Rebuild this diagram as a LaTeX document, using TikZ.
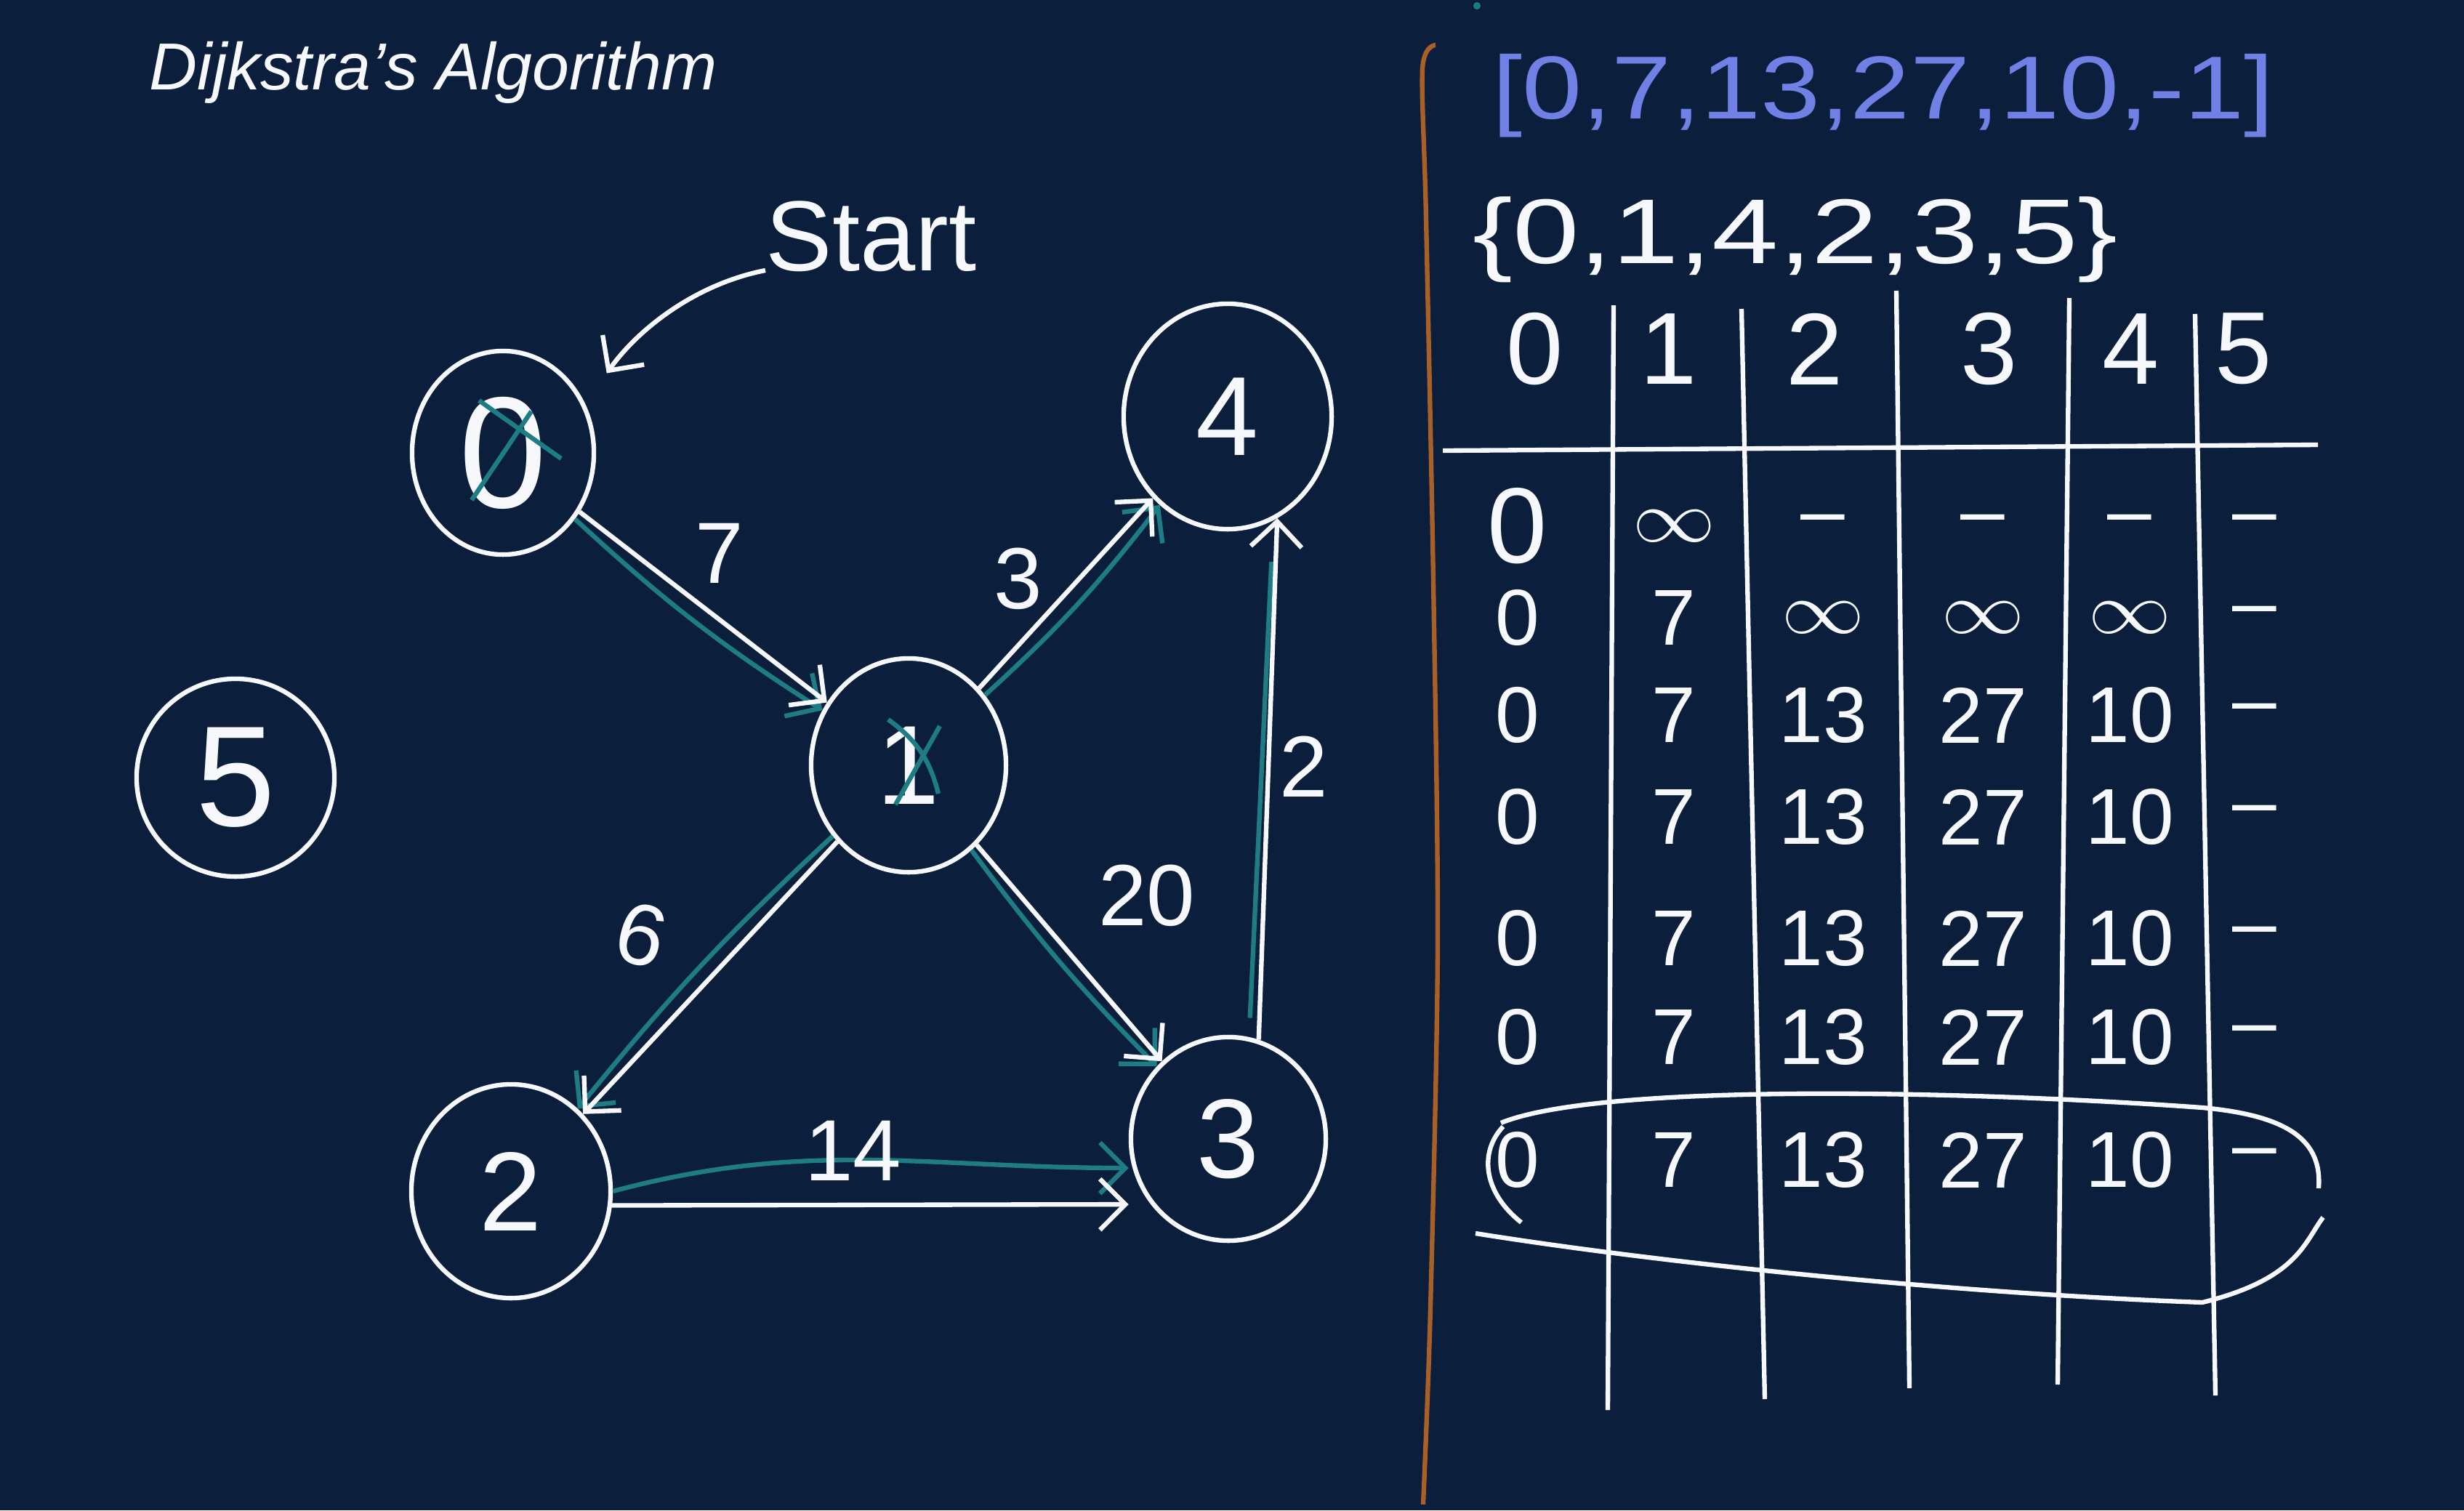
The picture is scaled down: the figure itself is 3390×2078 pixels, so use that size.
\documentclass[tikz,border=0pt]{standalone}
\usepackage{fontspec}
\setmainfont{Liberation Sans}
\usetikzlibrary{arrows.meta,positioning,calc,shapes.geometric}

\definecolor{board}{RGB}{11,31,61}
\definecolor{pen}{RGB}{246,248,252}
\definecolor{tealpen}{RGB}{30,125,132}
\definecolor{bluepen}{RGB}{112,128,228}
\definecolor{brownpen}{RGB}{168,96,40}
\newcommand{\hand}[1]{\fontsize{#1}{#1}\selectfont}
\newcommand{\inft}{\scalebox{1.3}[1.15]{$\infty$}}

\begin{document}
\begin{tikzpicture}[x=0.01cm,y=-0.01cm,>={Straight Barb[length=3.5mm,width=7mm]},
  vert/.style={draw=pen,ellipse,line width=1.8pt,text=pen,inner sep=0pt,font=\hand{44}},
  wire/.style={pen,line width=1.8pt},
  visit/.style={tealpen,line width=1.8pt},
  num/.style={text=pen,inner sep=0pt,font=\hand{34}},
  cell/.style={num,font=\hand{31}}]
  \useasboundingbox[fill=board] (0,0) rectangle (3390,2078);

  \node[text=pen,font=\itshape\hand{26},inner sep=0pt,anchor=base west] (title) at (205,123) {Dijkstra’s Algorithm};

  % graph
  \node[vert,minimum width=2.5cm,minimum height=2.8cm,font=\hand{62}] (n0) at (692,623) {0};
  \node[vert,minimum width=2.68cm,minimum height=2.94cm] (n1) at (1250,1053) {1};
  \node[vert,minimum width=2.74cm,minimum height=2.94cm] (n2) at (703,1639) {2};
  \node[vert,minimum width=2.68cm,minimum height=2.8cm] (n3) at (1690,1567) {3};
  \node[vert,minimum width=2.86cm,minimum height=3.1cm] (n4) at (1689,573) {4};
  \node[vert,minimum width=2.72cm,minimum height=2.72cm,font=\hand{56}] (n5) at (324,1070) {5};

  \draw[visit] ([shift={(-33,-72)}]n0.center) -- ([shift={(80,8)}]n0.center);
  \draw[visit] ([shift={(-43,65)}]n0.center) -- ([shift={(39,-57)}]n0.center);
  \draw[visit] ([shift={(-28,-63)}]n1.center) to[bend left=20] ([shift={(41,39)}]n1.center);
  \draw[visit] ([shift={(-18,54)}]n1.center) -- ([shift={(43,-54)}]n1.center);

  \node[text=pen,font=\hand{39},inner sep=0pt,anchor=base west] (start) at (1053,372) {Start};
  \draw[wire,->] (start.base west) .. controls (960,390) and (880,450) .. ([shift={(0.55cm,0.05cm)}]n0.50);

  \draw[visit,->] (n0) to[bend right=5] (n1);
  \draw[wire,->] (n0) -- (n1);
  \draw[visit,->] (n1) to[bend right=5] (n4);
  \draw[wire,->] (n1) -- (n4);
  \draw[visit,->] (n1) to[bend right=4] (n2);
  \draw[wire,->] (n1) -- (n2);
  \draw[visit,->] (n1) to[bend right=4] (n3);
  \draw[wire,->] (n1) -- (n3);
  \draw[visit] ([shift={(-0.12cm,0.3cm)}]n3.73) -- ([shift={(-0.08cm,-0.6cm)}]n4.-64);
  \draw[wire,->] (n3.73) -- (n4.-64);
  \draw[visit,->] (n2.0) to[out=15,in=180] ([yshift=-0.4cm]n3.west);
  \draw[wire,->] (n2.-8) -- ([yshift=-0.9cm]n3.west);

  \node[num] (w7) at (990,761) {7};
  \node[num] (w3) at (1401,796) {3};
  \node[num] (w2) at (1794,1055) {2};
  \node[num,rotate=-15] (w6) at (882,1286) {6};
  \node[num] (w20) at (1578,1232) {20};
  \node[num] (w14) at (1174,1583) {14};

  % right side
  \fill[tealpen] (2032,8) circle (0.05cm);
  \draw[brownpen,line width=1.8pt] plot[smooth] coordinates {(1975,62) (1957,95) (1962,300) (1972,800) (1978,1300) (1968,1800) (1958,2070)};

  \node[text=bluepen,font=\hand{35}] (dist) at (2591,132) {\scalebox{1.2}[1]{[0,7,13,27,10,-1]}};
  \node[num,font=\hand{36}] (seen) at (2470,330) {\scalebox{1.3}[1]{\{0,1,4,2,3,5\}}};

  \foreach \x/\v in {2112/0,2296/1,2497/2,2737/3,2932/4,3087/5}
    \node[num,font=\hand{40}] (h\v) at (\x,480) {\v};

  \draw[wire] (1985,620) -- (3189,612);
  \draw[wire] (2220,420) -- (2212,1940);
  \draw[wire] (2396,425) -- (2428,1925);
  \draw[wire] (2609,400) -- (2627,1910);
  \draw[wire] (2847,410) -- (2831,1905);
  \draw[wire] (3020,432) -- (3048,1920);

  \def\colx{{2088,2303,2508,2728,2930,3102}}
  \foreach \y/\vals [count=\r] in {724/{\hand{42}0,\inft,–,–,–,–},850/{0,7,\inft,\inft,\inft,–},
      984/{0,7,13,27,10,–},1124/{0,7,13,27,10,–},1291/{0,7,13,27,10,–},
      1427/{0,7,13,27,10,–},1596/{0,7,13,27,10,–}}
    \foreach \v [count=\c from 0] in \vals
      \node[cell] (c\r-\c) at ({\colx[\c]},\y) {\v};

  % last row
  \draw[wire] (2065,1545) .. controls (2200,1490) and (2700,1500) .. (3030,1524)
    .. controls (3150,1535) and (3195,1570) .. (3190,1635);
  \draw[wire] (3196,1675) .. controls (3170,1710) and (3160,1760) .. (3030,1792)
    .. controls (2700,1780) and (2300,1740) .. (2030,1697);
  \draw[wire] (2068,1550) .. controls (2035,1585) and (2040,1640) .. (2093,1682);
\end{tikzpicture}
\end{document}
